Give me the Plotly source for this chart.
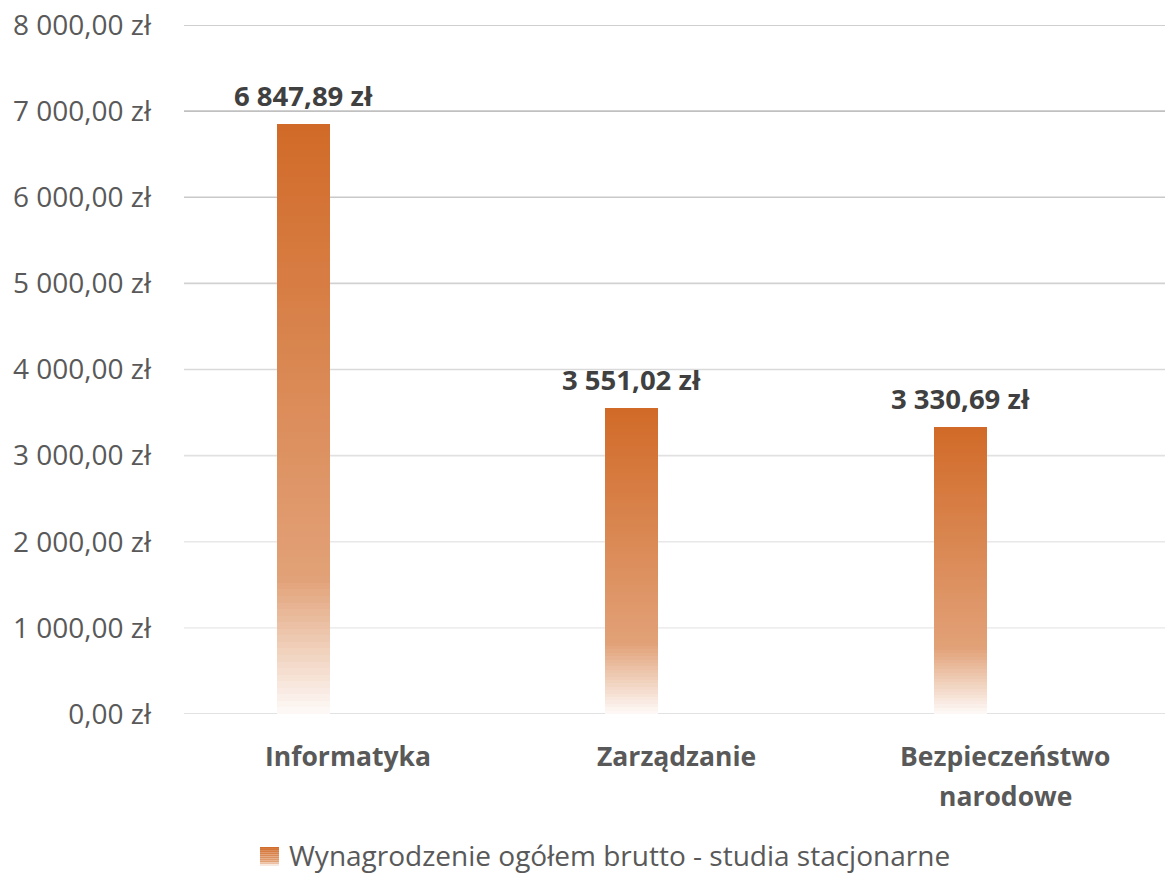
import plotly.graph_objects as go

# data
categories = ["Informatyka", "Zarządzanie", "Bezpieczeństwo<br>narodowe"]
values = [6847.89, 3551.02, 3330.69]
series_name = "Wynagrodzenie ogółem brutto - studia stacjonarne"
tick_values = [0, 1000, 2000, 3000, 4000, 5000, 6000, 7000, 8000]
grid_colors = ["#D9D9D9", "#EEEEEE", "#E8E8E8", "#E1E1E1", "#D9D9D9",
               "#D1D1D1", "#C9C9C9", "#C0C0C0", "#BFBFBF"]


def fmt_pln(v):
    s = f"{v:,.2f}".replace(",", " ").replace(".", ",")
    return s + " zł"


BASE = (209, 106, 40)
N_SEG = 90
BAR_WIDTH = 0.161
BAR_OFFSET = -0.218

# plot area in pixels (used to place the hand-made legend)
PLOT_W, PLOT_H = 981, 689


def alpha_at(t):
    # t = 0 at top of bar, 1 at the bottom
    if t <= 0.77:
        return 1.0 - (1.0 - 0.63) * t / 0.77
    return 0.63 - (0.63 - 0.03) * (t - 0.77) / 0.23


def blend(a):
    r, g, b = (round(c * a + 255 * (1 - a)) for c in BASE)
    return f"rgb({r},{g},{b})"


fig = go.Figure()

# gradient bars built from stacked slices of each value
for k in range(N_SEG):
    t = 1 - (k + 0.5) / N_SEG
    fig.add_trace(go.Bar(
        x=categories,
        y=[v / N_SEG * 1.03 for v in values],
        base=[v * k / N_SEG for v in values],
        width=BAR_WIDTH,
        offset=BAR_OFFSET,
        marker=dict(color=blend(alpha_at(t)), line=dict(width=0)),
        showlegend=False,
        hoverinfo="skip",
    ))

# data labels
for cat, v in zip(categories, values):
    fig.add_annotation(
        x=cat, y=v, xref="x", yref="y",
        text=f"<b>{fmt_pln(v)}</b>",
        showarrow=False, xshift=-45, yshift=8, yanchor="bottom",
        font=dict(family="Open Sans", size=27.5, color="#404040"),
    )

# category labels (one annotation per line, to get Excel-like line spacing)
for cat in categories:
    for i, line in enumerate(cat.split("<br>")):
        fig.add_annotation(
            x=cat, y=0, xref="x", yref="y",
            text=f"<b>{line}</b>",
            showarrow=False, yanchor="middle", yshift=-42 - 40 * i,
            font=dict(family="Open Sans", size=26.5, color="#595959"),
        )

shapes = []
for tv, col in zip(tick_values, grid_colors):
    shapes.append(dict(type="line", xref="paper", yref="y", x0=0, x1=1,
                       y0=tv, y1=tv, line=dict(color=col, width=1.6),
                       layer="below"))

# legend: gradient square + text (drawn by hand so the plot area isn't shrunk)
icon_x0, icon_x1 = 76 / PLOT_W, 95 / PLOT_W
icon_top, icon_bot = -133 / PLOT_H, -152 / PLOT_H
n_icon = 10
for i in range(n_icon):
    y0 = icon_top + (icon_bot - icon_top) * i / n_icon
    y1 = icon_top + (icon_bot - icon_top) * (i + 1) / n_icon
    shapes.append(dict(type="rect", xref="paper", yref="paper",
                       x0=icon_x0, x1=icon_x1, y0=y0, y1=y1,
                       line=dict(width=0),
                       fillcolor=blend(alpha_at((i + 0.5) / n_icon))))
fig.add_annotation(
    x=103 / PLOT_W, y=-141 / PLOT_H, xref="paper", yref="paper",
    xanchor="left", yanchor="middle", showarrow=False,
    text=series_name,
    font=dict(family="Open Sans", size=28, color="#595959"),
)

fig.update_layout(
    width=1165, height=873,
    barmode="overlay",
    plot_bgcolor="white", paper_bgcolor="white",
    margin=dict(l=184, r=0, t=25, b=159),
    font=dict(family="Open Sans", color="#595959"),
    shapes=shapes,
    showlegend=False,
    xaxis=dict(
        range=[-0.5, 2.486],
        showgrid=False, showline=False, zeroline=False, automargin=False,
        ticks="", showticklabels=False,
    ),
    yaxis=dict(
        range=[0, 8000],
        tickvals=tick_values,
        ticktext=[fmt_pln(v) for v in tick_values],
        showgrid=False, zeroline=False, showline=False, automargin=False,
        ticks="", ticklabelstandoff=32, ticklabeloverflow="allow",
        tickfont=dict(size=28, color="#595959"),
    ),
    bargap=0,
)

fig.write_html("out.html", config={"displayModeBar": False},
               post_script="document.body.style.margin='0';")
